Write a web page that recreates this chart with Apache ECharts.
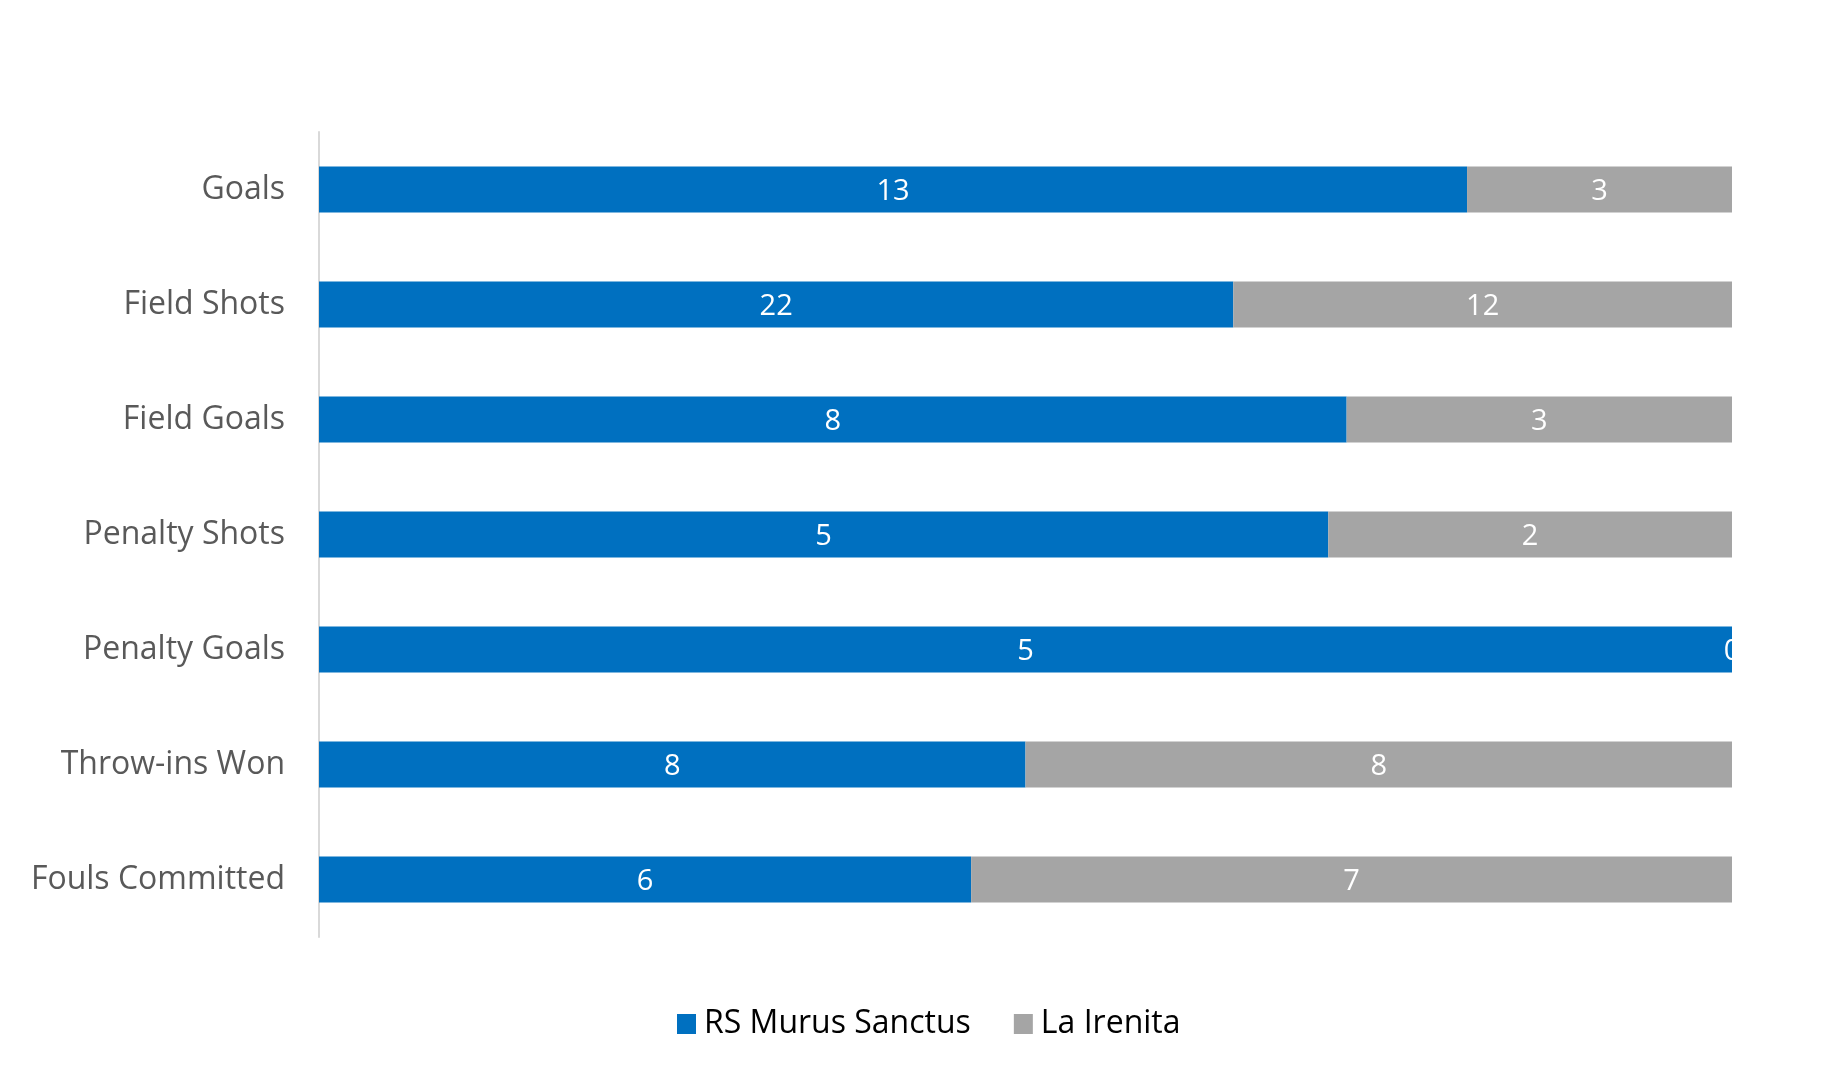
<!DOCTYPE html>
<html><head><meta charset="utf-8">
<script src="https://cdn.jsdelivr.net/npm/echarts@6/dist/echarts.min.js"></script>
<style>html,body{margin:0;padding:0;background:#fff}#c{width:1844px;height:1085px}</style>
</head><body><div id="c"></div>
<script>
const categories = ["Goals","Field Shots","Field Goals","Penalty Shots","Penalty Goals","Throw-ins Won","Fouls Committed"];
const seriesNames = ["RS Murus Sanctus","La Irenita"];
const murus = [13,22,8,5,5,8,6];
const irenita = [3,12,3,2,0,8,7];
const colors = ["#0070C0","#A5A5A5"];

const cats = categories.slice().reverse();
const a = murus.slice().reverse();
const b = irenita.slice().reverse();
const pct = (v, i) => { const t = a[i] + b[i]; return t ? v / t * 100 : 0; };
const font = "'Open Sans', sans-serif";

function mk(name, raw, color) {
  return {
    name, type: 'bar', stack: 'tot', barWidth: '40%', itemStyle: { color },
    label: { show: true, position: 'inside', color: '#fff', fontFamily: font, fontSize: 29,
      offset: [0, 2], formatter: p => String(raw[p.dataIndex]) },
    data: raw.map((v, i) => pct(v, i))
  };
}

const chart = echarts.init(document.getElementById('c'), null, { renderer: 'canvas' });
chart.setOption({
  animation: false,
  textStyle: { fontFamily: font },
  grid: { left: 319, right: 112, top: 132, bottom: 148, containLabel: false },
  legend: {
    bottom: 40, left: 672, itemWidth: 19, itemHeight: 20, itemGap: 43,
    padding: 5,
    icon: 'rect',
    textStyle: { color: '#000', fontSize: 32, fontFamily: font, padding: [0,0,0,3] },
    data: seriesNames
  },
  xAxis: { type: 'value', min: 0, max: 100, show: false },
  yAxis: {
    type: 'category', data: cats,
    axisLine: { show: true, lineStyle: { color: '#D9D9D9', width: 2 } },
    axisTick: { show: false },
    axisLabel: { color: '#595959', fontSize: 32, fontFamily: font, margin: 34, padding: [5,0,0,0] }
  },
  series: [mk(seriesNames[0], a, colors[0]), mk(seriesNames[1], b, colors[1])]
});
</script></body></html>
